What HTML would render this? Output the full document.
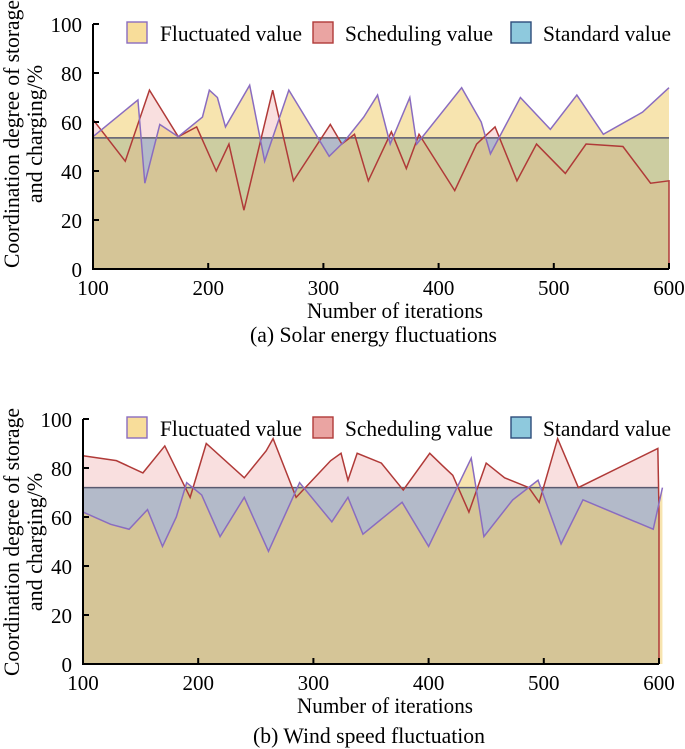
<!DOCTYPE html>
<html><head><meta charset="utf-8">
<style>
body{margin:0;background:#fff;}
svg{display:block;font-family:"Liberation Serif",serif;}
</style></head>
<body>
<svg id="c" width="685" height="749"></svg>
<script>
// Chart (a) Solar energy fluctuations
const aFluctX=[100,139,145,158,174,195,201,208,215,236,249,270,305,318,335,347,358,375,381,420,437,445,471,497,520,543,577,600];
const aFluctY=[54,69,35,59,54,62,73,70,58,75,44,73,46,52,62,71,51,70,51,74,60,47,70,57,71,55,64,74];
const aSchedX=[100,128,149,174,190,207,218,231,256,274,306,316,327,339,359,372,383,414,433,449,468,485,510,528,560,584,600];
const aSchedY=[61,44,73,54,58,40,51,24,73,36,59,51,55,36,56,41,55,32,51,58,36,51,39,51,50,35,36];
const aStandard=53.5;
// Chart (b) Wind speed fluctuation
const bFluctX=[100,124,140,156,169,181,190,203,219,240,261,288,316,330,343,377,400,437,448,473,495,515,534,595,603];
const bFluctY=[62,57,55,63,48,60,74,69,52,68,46,74,58,68,53,66,48,84,52,67,75,49,67,55,72];
const bSchedX=[100,129,152,171,193,207,240,259,265,285,315,324,330,338,359,378,401,412,421,435,450,466,487,496,512,530,599,600];
const bSchedY=[85,83,78,89,68,90,76,87,92,68,83,86,75,86,82,71,86,81,77,62,82,76,72,66,92,72,88,62];
const bStandard=72;
const xTicks=[100,200,300,400,500,600];
const yTicks=[0,20,40,60,80,100];

const NS="http://www.w3.org/2000/svg";
const svg=document.getElementById('c');
function mk(tag,attrs,parent){const e=document.createElementNS(NS,tag);for(const k in attrs)e.setAttribute(k,attrs[k]);(parent||svg).appendChild(e);return e;}

function chart(cfg){
  const g=mk('g',{});
  
  
  const X=v=>cfg.x0+(v-100)/500*(cfg.x1-cfg.x0);
  const Y=v=>cfg.y0-v/100*(cfg.y0-cfg.y1);
  const areaPts=(xs,ys)=>{let s=X(xs[0])+','+Y(0)+' ';xs.forEach((x,i)=>s+=X(x)+','+Y(ys[i])+' ');s+=X(xs[xs.length-1])+','+Y(0);return s;};
  const linePts=(xs,ys)=>xs.map((x,i)=>X(x)+','+Y(ys[i])).join(' ');
  const st=mk('rect',{x:X(100),y:Y(cfg.std),width:X(600)-X(100),height:Y(0)-Y(cfg.std),fill:'rgba(95,170,205,0.6)'},g);
  
  const sa=mk('polygon',{points:areaPts(cfg.sx,cfg.sy),fill:'rgba(232,140,140,0.28)'},g);
  
  const fa=mk('polygon',{points:areaPts(cfg.fx,cfg.fy),fill:'rgba(240,205,110,0.55)'},g);
  
  const sl=mk('line',{x1:X(100),x2:X(600),y1:Y(cfg.std),y2:Y(cfg.std),stroke:'#5a5a70','stroke-width':1.5},g);
  
  const rl=mk('polyline',{points:linePts(cfg.sx,cfg.sy)+' '+X(cfg.sx[cfg.sx.length-1])+','+Y(0),fill:'none',stroke:'#b03a38','stroke-width':1.5},g);
  
  const pl=mk('polyline',{points:linePts(cfg.fx,cfg.fy),fill:'none',stroke:'#8a6cc0','stroke-width':1.5},g);
  
  const ax=mk('path',{d:`M${X(100)},${Y(100)}V${Y(0)}H${X(600)}`,fill:'none',stroke:'#000','stroke-width':2},g);
  
  yTicks.forEach(t=>{
    mk('line',{x1:X(100),x2:X(100)+6,y1:Y(t),y2:Y(t),stroke:'#000','stroke-width':2},g);
    const tx=mk('text',{x:X(100)-11,y:Y(t)+8,'text-anchor':'end','font-size':21},g);tx.textContent=t;
    
  });
  xTicks.forEach(t=>{
    mk('line',{x1:X(t),x2:X(t),y1:Y(0),y2:Y(0)-6,stroke:'#000','stroke-width':2},g);
    const tx=mk('text',{x:X(t),y:Y(0)+26,'text-anchor':'middle','font-size':21},g);tx.textContent=t;
    
  });
  const xt=mk('text',{x:cfg.tx,y:Y(0)+49,'font-size':22,textLength:176,lengthAdjust:'spacingAndGlyphs'},g);xt.textContent='Number of iterations';
  
  const cap=mk('text',{x:cfg.cx,y:Y(0)+cfg.cdy,'font-size':22,textLength:cfg.cw,lengthAdjust:'spacingAndGlyphs'},g);cap.textContent=cfg.caption;
  
  const cy=cfg.ycy;
  const yt=mk('text',{transform:`translate(19,${cy}) rotate(-90)`,'text-anchor':'middle','font-size':22},g);
  
  const t1=mk('tspan',{x:0,y:0,textLength:268,lengthAdjust:'spacingAndGlyphs'},yt);t1.textContent='Coordination degree of storage';
  const t2=mk('tspan',{x:0,y:23},yt);t2.textContent='and charging/%';
  const ly=Y(100)-2;
  const items=[['Fluctuated value','#f8dd9a','#8a6cc0',127,160,142],['Scheduling value','#eaa4a2','#b03a38',313,345,148],['Standard value','#8ec9dd','#2e4c7a',511,543,128]];
  items.forEach(it=>{
    const lg=mk('g',{},g);
    mk('rect',{x:it[3],y:ly,width:20,height:21,fill:it[1],stroke:it[2],'stroke-width':1.4},lg);
    const tx=mk('text',{x:it[4],y:ly+19,'font-size':22,textLength:it[5],lengthAdjust:'spacingAndGlyphs'},lg);tx.textContent=it[0];
  });
}
chart({name:'solar-chart',x0:93,x1:669,y0:269,y1:24,fx:aFluctX,fy:aFluctY,sx:aSchedX,sy:aSchedY,std:aStandard,caption:'(a) Solar energy fluctuations',tx:307,cx:250,cw:247,cdy:73,ycy:134});
chart({name:'wind-chart',x0:83,x1:659,y0:664,y1:419,fx:bFluctX,fy:bFluctY,sx:bSchedX,sy:bSchedY,std:bStandard,caption:'(b) Wind speed fluctuation',tx:297,cx:253,cw:232,cdy:79,ycy:542});
</script>
</body></html>
